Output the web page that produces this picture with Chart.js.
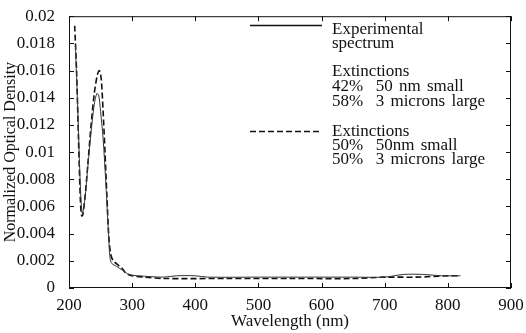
<!DOCTYPE html>
<html>
<head>
<meta charset="utf-8">
<script src="https://cdn.jsdelivr.net/npm/chart.js@4/dist/chart.umd.min.js"></script>
<style>
  html, body { margin: 0; padding: 0; background: #fff; }
  #wrap { width: 526px; height: 333px; }
</style>
</head>
<body>
<div id="wrap"><canvas id="spectrumChart"></canvas></div>
<script>
// measured spectrum
const expWave = [210, 214, 218, 221, 225, 230, 235, 240, 244, 247, 250, 254, 258, 262, 265, 268, 275, 285, 295, 310, 350, 370, 400, 420, 500, 600, 650, 700, 730, 760, 790, 820];
const expOD = [0.0180, 0.0130, 0.0075, 0.0055, 0.0065, 0.0090, 0.0115, 0.0135, 0.0143, 0.0142, 0.0130, 0.0110, 0.0080, 0.0045, 0.0022, 0.0018, 0.0016, 0.0013, 0.0010, 0.0009, 0.0008, 0.0009, 0.0009, 0.0008, 0.0008, 0.0008, 0.0008, 0.0008, 0.0010, 0.0010, 0.0009, 0.0009];

// 50% small / 50% large fit
const fitWave = [209, 212, 215, 218, 220, 222, 226, 230, 235, 240, 245, 248, 251, 254, 257, 260, 263, 266, 270, 275, 280, 285, 290, 300, 320, 350, 450, 550, 650, 700, 750, 800, 820];
const fitOD = [0.0193, 0.0160, 0.0110, 0.0065, 0.0053, 0.0054, 0.0070, 0.0092, 0.0120, 0.0143, 0.0157, 0.0160, 0.0154, 0.0130, 0.0100, 0.0068, 0.0038, 0.0025, 0.0020, 0.0018, 0.0016, 0.0014, 0.0011, 0.0009, 0.0008, 0.0007, 0.0007, 0.0007, 0.0007, 0.0008, 0.0008, 0.0009, 0.0009];

const xTicks = [200, 300, 400, 500, 600, 700, 800, 900];
const yTicks = [0, 0.002, 0.004, 0.006, 0.008, 0.01, 0.012, 0.014, 0.016, 0.018, 0.02];

// legend text, one group per entry (dash null = no line sample)
const legendLines = [
    { dash: [], text: ['Experimental', 'spectrum'] },
    { dash: null, text: ['Extinctions', '42%  50 nm small', '58%  3 microns large'] },
    { dash: [6, 3], text: ['Extinctions', '50%  50nm small', '50%  3 microns large'] }
];

const serif = 'Liberation Serif';

function toPoints(xs, ys) {
    return xs.map((x, i) => ({ x: x, y: ys[i] }));
}

// frame, inward ticks and the text legend
const framePlugin = {
    id: 'frame',
    afterDraw(chart) {
        const ctx = chart.ctx;
        const a = chart.chartArea;
        const xs = chart.scales.x, ys = chart.scales.y;
        ctx.save();
        ctx.strokeStyle = '#111';
        ctx.lineWidth = 1;
        ctx.strokeRect(a.left + 0.5, a.top + 0.5, a.right - a.left - 1, a.bottom - a.top - 1);
        ctx.beginPath();
        xTicks.forEach(v => {
            const px = Math.round(xs.getPixelForValue(v)) + 0.5;
            ctx.moveTo(px, a.bottom); ctx.lineTo(px, a.bottom - 5);
            ctx.moveTo(px, a.top); ctx.lineTo(px, a.top + 5);
        });
        yTicks.forEach(v => {
            const py = Math.round(ys.getPixelForValue(v)) + 0.5;
            ctx.moveTo(a.left, py); ctx.lineTo(a.left + 5, py);
            ctx.moveTo(a.right, py); ctx.lineTo(a.right - 5, py);
        });
        ctx.stroke();

        // legend
        ctx.font = '17px "' + serif + '"';
        ctx.fillStyle = '#111';
        ctx.textBaseline = 'alphabetic';
        ctx.wordSpacing = '2px';
        const baselines = [[34, 48], [76, 91, 106], [136, 150, 164]];
        const sampleY = [25, null, 131];
        legendLines.forEach((entry, i) => {
            if (entry.dash) {
                ctx.beginPath();
                ctx.setLineDash(entry.dash);
                ctx.lineWidth = 1.4;
                ctx.moveTo(250, sampleY[i] + 0.5);
                ctx.lineTo(322, sampleY[i] + 0.5);
                ctx.stroke();
                ctx.setLineDash([]);
            }
            entry.text.forEach((t, j) => ctx.fillText(t, 332, baselines[i][j]));
        });
        ctx.restore();
    }
};

const config = {
    type: 'line',
    data: {
        datasets: [
            {
                label: 'Experimental spectrum',
                data: toPoints(expWave, expOD),
                borderColor: '#333',
                borderWidth: 1,
                pointRadius: 0,
                tension: 0.3,
                fill: false
            },
            {
                label: 'Extinctions 50% / 50%',
                data: toPoints(fitWave, fitOD),
                borderColor: '#111',
                borderWidth: 1.6,
                borderDash: [6, 3],
                pointRadius: 0,
                tension: 0.3,
                fill: false
            }
        ]
    },
    options: {
        responsive: true,
        maintainAspectRatio: false,
        animation: false,
        layout: { padding: { top: 15, right: 15, left: 0, bottom: 0 } },
        plugins: {
            legend: { display: false },
            tooltip: { enabled: false }
        },
        scales: {
            x: {
                type: 'linear',
                min: 200,
                max: 900,
                afterBuildTicks: scale => { scale.ticks = xTicks.map(v => ({ value: v })); },
                afterFit: scale => { scale.height = 45; },
                grid: { display: false },
                border: { display: false },
                ticks: {
                    color: '#111',
                    font: { family: serif, size: 17 },
                    padding: -1,
                    maxRotation: 0
                },
                title: {
                    display: true,
                    text: 'Wavelength (nm)',
                    color: '#111',
                    font: { family: serif, size: 17 },
                    padding: { top: 0, bottom: 1 }
                }
            },
            y: {
                min: 0,
                max: 0.02,
                afterBuildTicks: scale => { scale.ticks = yTicks.map(v => ({ value: v })); },
                afterFit: scale => { scale.width = 69; },
                grid: { display: false },
                border: { display: false },
                ticks: {
                    color: '#111',
                    font: { family: serif, size: 17 },
                    padding: 6,
                    callback: v => String(+v.toFixed(3))
                },
                title: {
                    display: true,
                    text: 'Normalized Optical Density',
                    color: '#111',
                    font: { family: serif, size: 16 },
                    padding: { top: 1, bottom: 0 }
                }
            }
        }
    },
    plugins: [framePlugin]
};

new Chart(document.getElementById('spectrumChart').getContext('2d'), config);
</script>
</body>
</html>
